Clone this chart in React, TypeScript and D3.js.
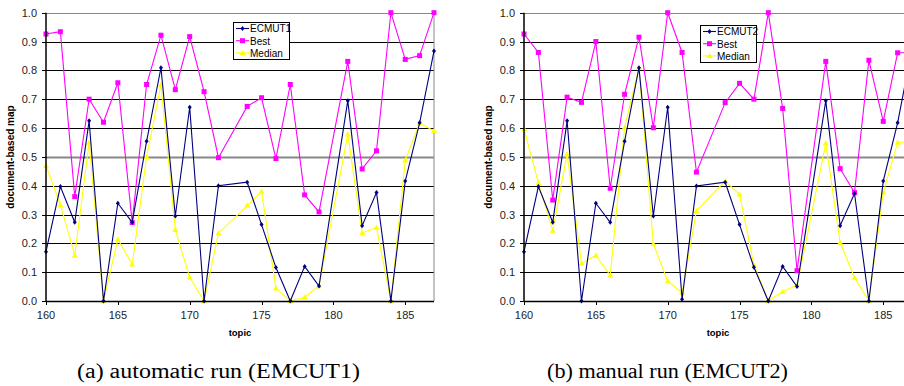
import React from "react";
import * as d3 from "d3";

const topics = [160, 161, 162, 163, 164, 165, 166, 167, 168, 169, 170, 171, 172, 174, 175, 176, 177, 178, 179, 181, 182, 183, 184, 185, 186, 187];

const ecmut1 = [0.171, 0.397, 0.273, 0.625, 0.0, 0.339, 0.273, 0.554, 0.809, 0.295, 0.672, 0.0, 0.4, 0.412, 0.265, 0.116, 0.0, 0.12, 0.052, 0.695, 0.261, 0.376, 0.0, 0.416, 0.618, 0.867];
const best1 = [0.926, 0.934, 0.362, 0.7, 0.62, 0.757, 0.272, 0.751, 0.922, 0.733, 0.917, 0.726, 0.497, 0.675, 0.705, 0.494, 0.751, 0.368, 0.309, 0.831, 0.458, 0.521, 1.0, 0.838, 0.851, 1.0];
const median1 = [0.469, 0.334, 0.158, 0.55, 0.0, 0.214, 0.127, 0.5, 0.751, 0.247, 0.082, 0.0, 0.235, 0.331, 0.38, 0.044, 0.0, 0.013, 0.052, 0.578, 0.236, 0.255, 0.0, 0.488, 0.617, 0.59];

const ecmut2 = [0.171, 0.397, 0.273, 0.625, 0.0, 0.339, 0.273, 0.554, 0.809, 0.295, 0.672, 0.006, 0.399, 0.412, 0.265, 0.117, 0.0, 0.12, 0.05, 0.695, 0.261, 0.373, 0.0, 0.416, 0.618, 0.875];
const best2 = [0.926, 0.862, 0.35, 0.707, 0.689, 0.9, 0.391, 0.717, 0.915, 0.601, 1.0, 0.862, 0.447, 0.688, 0.755, 0.7, 1.0, 0.668, 0.105, 0.831, 0.459, 0.376, 0.835, 0.623, 0.861, 0.861];
const median2 = [0.597, 0.41, 0.244, 0.51, 0.131, 0.158, 0.089, 0.602, 0.809, 0.198, 0.069, 0.029, 0.313, 0.416, 0.37, 0.125, 0.0, 0.032, 0.055, 0.547, 0.203, 0.081, 0.0, 0.377, 0.55, 0.553];

const xTicks = [160, 165, 170, 175, 180, 185];
const yTicks = [0, 0.1, 0.2, 0.3, 0.4, 0.5, 0.6, 0.7, 0.8, 0.9, 1.0];

const NAVY = "#000080";
const MAGENTA = "#FF00FF";
const YELLOW = "#FFFF00";
const SANS = "Arial, 'Liberation Sans', Helvetica, sans-serif";
const SERIF = "'Liberation Serif', 'DejaVu Serif', serif";

type Props = {
  left: number;
  runName: string;
  run: number[];
  best: number[];
  median: number[];
  legendX: number;
  legendY: number;
  caption: string;
  captionX: number;
  captionW: number;
};

function Marker({ kind, x, y }: { kind: string; x: number; y: number }) {
  if (kind === "diamond") {
    return <path d={`M${x},${y - 2.5}L${x + 2},${y}L${x},${y + 2.5}L${x - 2},${y}Z`} fill={NAVY} />;
  }
  if (kind === "square") {
    return <rect x={x - 2.5} y={y - 2.5} width={5} height={5} fill={MAGENTA} />;
  }
  return <path d={`M${x},${y - 3}L${x + 3},${y + 2.2}L${x - 3},${y + 2.2}Z`} fill={YELLOW} />;
}

function Chart(p: Props) {
  const x = d3.scaleLinear().domain([160, 187]).range([p.left, p.left + 27 * 14.37]);
  const y = d3.scaleLinear().domain([0, 1]).range([301, 12.7]);
  const line = d3
    .line<number>()
    .x((_, i) => x(topics[i]))
    .y((d) => y(d));
  const x0 = x(160);
  const x1 = x(187);
  const series = [
    { name: p.runName, values: p.run, color: NAVY, marker: "diamond" },
    { name: "Best", values: p.best, color: MAGENTA, marker: "square" },
    { name: "Median", values: p.median, color: YELLOW, marker: "triangle" },
  ];
  const drawOrder = [series[2], series[1], series[0]];
  return (
    <g>
      {yTicks.map((t) => {
        const yy = Math.round(y(t)) + 0.5;
        const gray = t === 1 || Math.abs(t - 0.5) < 1e-6;
        return (
          <line key={t} x1={x0} x2={x1} y1={yy} y2={yy} stroke={gray ? "#888" : "#000"} strokeWidth={gray && t !== 1 ? 1.8 : 1} />
        );
      })}
      <line x1={x1} x2={x1} y1={y(1)} y2={y(0)} stroke="#888" strokeWidth={1} />
      {drawOrder.map((s) => (
        <g key={s.name}>
          <path d={line(s.values) || ""} fill="none" stroke={s.color} strokeWidth={1.1} />
          {s.values.map((v, i) => (
            <Marker key={i} kind={s.marker} x={x(topics[i])} y={y(v)} />
          ))}
        </g>
      ))}
      <line x1={x0} x2={x0} y1={y(1)} y2={y(0) + 0.5} stroke="#000" strokeWidth={1.5} />
      <line x1={x0} x2={x1} y1={y(0) + 0.5} y2={y(0) + 0.5} stroke="#000" strokeWidth={1.5} />
      {yTicks.map((t) => (
        <g key={"yt" + t}>
          <line x1={x0 - 4} x2={x0} y1={Math.round(y(t)) + 0.5} y2={Math.round(y(t)) + 0.5} stroke="#000" />
          <text x={x0 - 9} y={y(t) + 4} textAnchor="end" fontFamily={SANS} fontSize={11} fill="#222">
            {t.toFixed(1)}
          </text>
        </g>
      ))}
      {xTicks.map((t) => (
        <g key={"xt" + t}>
          <line x1={Math.round(x(t)) + 0.5} x2={Math.round(x(t)) + 0.5} y1={y(0)} y2={y(0) + 4} stroke="#000" />
          <text x={x(t)} y={319} textAnchor="middle" fontFamily={SANS} fontSize={11} fill="#222">
            {t}
          </text>
        </g>
      ))}
      <text x={p.left + 194} y={336} textAnchor="middle" fontFamily={SANS} fontSize={9.5} fontWeight="bold" fill="#000">
        topic
      </text>
      <text
        transform={`translate(${p.left - 32},${157}) rotate(-90)`}
        textAnchor="middle"
        fontFamily={SANS}
        fontSize={10}
        fontWeight="bold"
        fill="#000"
      >
        document-based map
      </text>
      <g>
        <rect x={p.legendX + 0.5} y={p.legendY + 0.5} width={56} height={37} fill="#fff" stroke="#000" strokeWidth={1} />
        {series.map((s, i) => {
          const ly = p.legendY + 6.5 + i * 12.2;
          return (
            <g key={"lg" + s.name}>
              <line x1={p.legendX + 3} x2={p.legendX + 16} y1={ly} y2={ly} stroke={s.color} strokeWidth={1.1} />
              <Marker kind={s.marker} x={p.legendX + 9.5} y={ly} />
              <text x={p.legendX + 17} y={ly + 3.8} fontFamily={SANS} fontSize={10} fill="#000">
                {s.name}
              </text>
            </g>
          );
        })}
      </g>
      <text
        x={p.captionX}
        y={378}
        fontFamily={SERIF}
        fontSize={20}
        fill="#000"
        textLength={p.captionW}
        lengthAdjust="spacingAndGlyphs"
      >
        {p.caption}
      </text>
    </g>
  );
}

export default function App() {
  return (
    <div style={{ position: "absolute", left: 0, top: 0, width: 904, height: 386, overflow: "hidden", background: "#fff" }}>
      <svg width={904} height={386} style={{ display: "block" }}>
        <rect width={904} height={386} fill="#fff" />
        <Chart left={46} runName="ECMUT1" run={ecmut1} best={best1} median={median1} legendX={233} legendY={22} caption="(a) automatic run (EMCUT1)" captionX={77} captionW={283} />
        <Chart left={524} runName="ECMUT2" run={ecmut2} best={best2} median={median2} legendX={700} legendY={25} caption="(b) manual run (EMCUT2)" captionX={547} captionW={241} />
      </svg>
    </div>
  );
}
